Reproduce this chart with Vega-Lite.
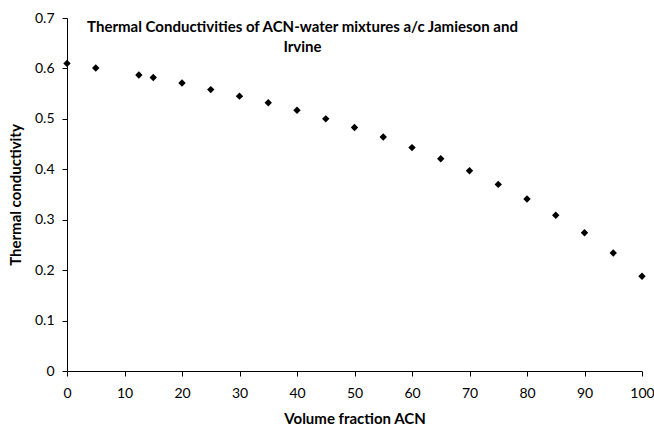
{
  "$schema": "https://vega.github.io/schema/vega-lite/v6.json",
  "width": 575,
  "height": 353,
  "autosize": {"type": "none"},
  "padding": {"left": 67, "top": 18, "right": 12, "bottom": 55},
  "background": "white",
  "config": {
    "view": {"stroke": null},
    "font": "Lato"
  },
  "title": {
    "text": ["Thermal Conductivities of ACN-water mixtures a/c Jamieson and", "Irvine"],
    "anchor": "middle",
    "frame": "group",
    "font": "Lato",
    "fontSize": 15,
    "fontWeight": "bold",
    "color": "black",
    "baseline": "top",
    "offset": 0,
    "dy": 44,
    "dx": -52,
    "lineHeight": 20
  },
  "data": {
    "values": [
      {"x": 0, "y": 0.610},
      {"x": 5, "y": 0.601},
      {"x": 12.5, "y": 0.587},
      {"x": 15, "y": 0.582},
      {"x": 20, "y": 0.571},
      {"x": 25, "y": 0.558},
      {"x": 30, "y": 0.545},
      {"x": 35, "y": 0.532},
      {"x": 40, "y": 0.517},
      {"x": 45, "y": 0.500},
      {"x": 50, "y": 0.483},
      {"x": 55, "y": 0.464},
      {"x": 60, "y": 0.443},
      {"x": 65, "y": 0.421},
      {"x": 70, "y": 0.397},
      {"x": 75, "y": 0.370},
      {"x": 80, "y": 0.341},
      {"x": 85, "y": 0.309},
      {"x": 90, "y": 0.274},
      {"x": 95, "y": 0.234},
      {"x": 100, "y": 0.188}
    ]
  },
  "mark": {"type": "point", "shape": "diamond", "filled": true, "color": "black", "size": 55, "opacity": 1},
  "encoding": {
    "x": {
      "field": "x",
      "type": "quantitative",
      "scale": {"domain": [0, 100], "nice": false, "zero": false},
      "axis": {
        "title": "Volume fraction ACN",
        "values": [0, 10, 20, 30, 40, 50, 60, 70, 80, 90, 100],
        "grid": false,
        "domainColor": "black",
        "tickColor": "black",
        "tickSize": 5,
        "labelFont": "Lato",
        "labelFontSize": 14,
        "labelColor": "black",
        "labelPadding": 10,
        "labelFlush": false,
        "titleFont": "Lato",
        "titleFontSize": 15,
        "titleFontWeight": "bold",
        "titleColor": "black",
        "titlePadding": 11
      }
    },
    "y": {
      "field": "y",
      "type": "quantitative",
      "scale": {"domain": [0, 0.7], "nice": false},
      "axis": {
        "title": "Thermal conductivity",
        "values": [0, 0.1, 0.2, 0.3, 0.4, 0.5, 0.6, 0.7],
        "format": ".1~f",
        "grid": false,
        "domainColor": "black",
        "tickColor": "black",
        "tickSize": 5,
        "labelFont": "Lato",
        "labelFontSize": 14,
        "labelColor": "black",
        "labelPadding": 8,
        "labelFlush": false,
        "titleFont": "Lato",
        "titleFontSize": 15,
        "titleFontWeight": "bold",
        "titleColor": "black",
        "titlePadding": 11
      }
    }
  }
}
